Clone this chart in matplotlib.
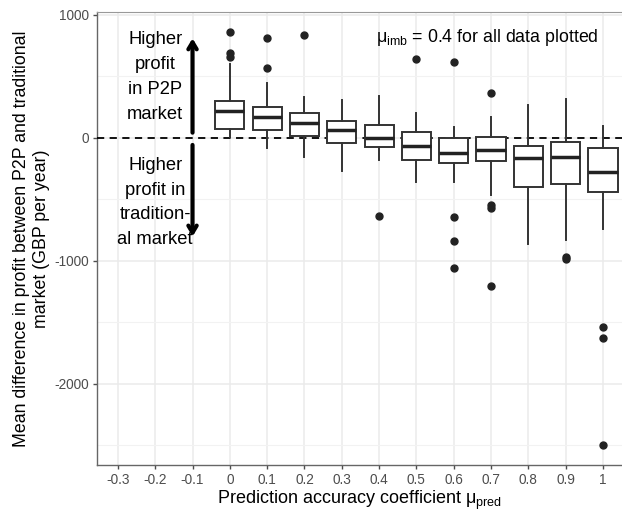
import matplotlib
matplotlib.use("Agg")
import matplotlib.pyplot as plt
from matplotlib.ticker import MultipleLocator

plt.rcParams['font.family'] = ['Liberation Sans', 'DejaVu Sans']
plt.rcParams['mathtext.fontset'] = 'custom'
plt.rcParams['mathtext.rm'] = 'Liberation Sans'
plt.rcParams['mathtext.it'] = 'Liberation Sans:italic'

# Data
mu_pred = [0.0, 0.1, 0.2, 0.3, 0.4, 0.5, 0.6, 0.7, 0.8, 0.9, 1.0]
q1 = [73, 65, 19, -43, -76, -179, -206, -190, -396, -374, -441]
med = [222, 168, 124, 65, 3, -65, -119, -98, -165, -152, -274]
q3 = [304, 255, 206, 138, 103, 49, -3, 5, -63, -30, -84]
whislo = [5, -84, -152, -266, -179, -360, -355, -463, -862, -829, -742]
whishi = [602, 450, 331, 309, 344, 206, 92, 174, 268, 314, 98]
fliers = [
    [864, 689, 661],
    [810, 572],
    [835],
    [],
    [-634],
    [640],
    [618, -645, -837, -1054],
    [363, -545, -572, -1203],
    [],
    [-970, -985],
    [-1539, -1629, -2496],
]
xticks = [-0.3, -0.2, -0.1, 0, 0.1, 0.2, 0.3, 0.4, 0.5, 0.6, 0.7, 0.8, 0.9, 1]
xticklabels = ["-0.3", "-0.2", "-0.1", "0", "0.1", "0.2", "0.3", "0.4", "0.5",
               "0.6", "0.7", "0.8", "0.9", "1"]
yticks = [1000, 0, -1000, -2000]

fig = plt.figure(figsize=(6.22, 5.11), dpi=100)
ax = fig.add_axes([97/622, 1-465/511, 1-97/622, (465-12)/511])

stats = []
for i in range(len(mu_pred)):
    stats.append(dict(med=med[i], q1=q1[i], q3=q3[i], whislo=whislo[i],
                      whishi=whishi[i], fliers=fliers[i]))

ax.axhline(0, color='black', linestyle=(0, (4, 3)), linewidth=1.3, zorder=3)

ax.bxp(stats, positions=mu_pred, widths=0.078, showcaps=False, patch_artist=True,
       boxprops=dict(facecolor='white', edgecolor='#333333', linewidth=1.4),
       whiskerprops=dict(color='#333333', linewidth=1.4),
       medianprops=dict(color='#222222', linewidth=2.5),
       flierprops=dict(marker='o', markerfacecolor='#222222', markeredgecolor='#222222',
                       markersize=5),
       manage_ticks=False, zorder=4)

ax.set_xlim(-0.356, 1.051)
ax.set_ylim(-2659, 1024)
ax.set_xticks(xticks)
ax.set_xticklabels(xticklabels)
ax.set_yticks(yticks)
ax.set_yticklabels([str(v) for v in yticks])
ax.yaxis.set_minor_locator(MultipleLocator(500))
ax.tick_params(axis='both', which='major', labelsize=9.8, colors='#4d4d4d',
               length=3, width=1, pad=3)
ax.tick_params(axis='y', which='minor', length=0)
ax.grid(which='major', color='#ebebeb', linewidth=1.1)
ax.grid(which='minor', axis='y', color='#f2f2f2', linewidth=0.8)
ax.set_axisbelow(True)
for s in ['left', 'bottom']:
    ax.spines[s].set_color('#666666')
    ax.spines[s].set_linewidth(1.0)
ax.spines['top'].set_color('#999999')
ax.spines['right'].set_visible(False)

ax.set_xlabel(r"Prediction accuracy coefficient $\mathregular{\mu_{pred}}$", fontsize=13,
              labelpad=1)
ax.set_ylabel("Mean difference in profit between P2P and traditional\nmarket (GBP per year)",
              fontsize=12.8, labelpad=3)

ax.text(0.69, 813, r"$\mathregular{\mu_{imb}}$ = 0.4 for all data plotted", ha='center',
        va='center', fontsize=12.8, zorder=5)
ax.text(-0.2, 496, "Higher\nprofit\nin P2P\nmarket", ha='center', va='center',
        fontsize=13.2, linespacing=1.6, zorder=5)
ax.text(-0.2, -524, "Higher\nprofit in\ntradition-\nal market", ha='center', va='center',
        fontsize=13.2, linespacing=1.6, zorder=5)
ax.annotate("", xy=(-0.1, 810), xytext=(-0.1, 43),
            arrowprops=dict(arrowstyle='->,head_length=0.5,head_width=0.3', lw=3,
                            color='black', shrinkA=0, shrinkB=0), zorder=5)
ax.annotate("", xy=(-0.1, -802), xytext=(-0.1, -57),
            arrowprops=dict(arrowstyle='->,head_length=0.5,head_width=0.3', lw=3,
                            color='black', shrinkA=0, shrinkB=0), zorder=5)

fig.savefig("out.png", dpi=100)
